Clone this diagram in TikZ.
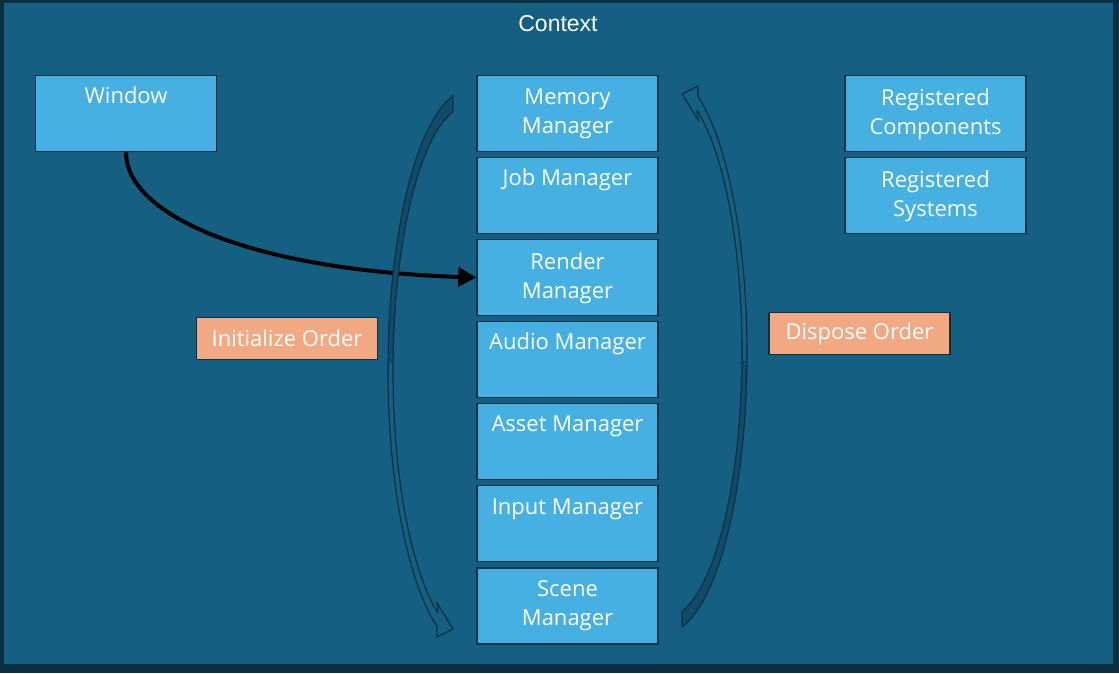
\documentclass[tikz,border=0pt]{standalone}
\usepackage{fontspec}
\setmainfont{Open Sans}
\newfontfamily\ctxfont{Liberation Sans}
\usetikzlibrary{arrows.meta}
\definecolor{ctxbg}{HTML}{156082}
\definecolor{ctxdark}{HTML}{0A3041}
\definecolor{boxblue}{HTML}{45B0E1}
\definecolor{ordorange}{HTML}{F1A983}
\definecolor{bandcol}{HTML}{104C69}
\tikzset{
 mgr/.style={draw=ctxdark, line width=1.5pt, fill=boxblue, minimum width=181pt, minimum height=76pt, inner sep=0pt},
 mgrtext/.style={anchor=north, inner sep=0pt, align=center, text=white, font=\fontsize{22}{29}\selectfont, execute at begin node={\rule{0pt}{17pt}}},
 order/.style={draw=ctxdark, line width=1.5pt, fill=ordorange, minimum width=181pt, minimum height=42pt, inner sep=0pt, text=white, font=\fontsize{22}{29}\selectfont},
 curvearr/.style={draw=ctxdark, line width=1.2pt, line join=miter},
 linkarrow/.style={line width=4pt, -{Triangle[length=18pt,width=19pt]}},
}
\begin{document}
\begin{tikzpicture}[x=1pt,y=-1pt]
\useasboundingbox (0,0) rectangle (1119,673);
\fill[ctxdark] (0,0) rectangle (1119,673);
\node[fill=ctxbg, minimum width=1109pt, minimum height=661pt, inner sep=0pt] (ctx) at (558.5,333.5) {};
\node[anchor=base, inner sep=0pt, text=white, font=\ctxfont\fontsize{23}{28}\selectfont] (title) at (558,31.5) {Context};

% managers
\node[mgr] (win) at (126,113.5) {};
\node[mgr] (mem) at (567.5,113.5) {};
\node[mgr] (job) at (567.5,195.5) {};
\node[mgr] (ren) at (567.5,277.5) {};
\node[mgr] (aud) at (567.5,359.5) {};
\node[mgr] (ast) at (567.5,441.5) {};
\node[mgr] (inp) at (567.5,523.5) {};
\node[mgr] (scn) at (567.5,606) {};
\node[mgr] (rc) at (935.5,113.5) {};
\node[mgr] (rs) at (935.5,195.5) {};

\node[mgrtext] (winT) at ([yshift=-12pt]win.north) {Window};
\node[mgrtext] (memT) at ([yshift=-13.5pt]mem.north) {Memory\\Manager};
\node[mgrtext] (jobT) at ([yshift=-11.5pt]job.north) {Job Manager};
\node[mgrtext] (renT) at ([yshift=-13.5pt]ren.north) {Render\\Manager};
\node[mgrtext] (audT) at ([yshift=-11.5pt]aud.north) {Audio Manager};
\node[mgrtext] (astT) at ([yshift=-11.5pt]ast.north) {Asset Manager};
\node[mgrtext] (inpT) at ([yshift=-12.3pt]inp.north) {Input Manager};
\node[mgrtext] (scnT) at ([yshift=-13.5pt]scn.north) {Scene\\Manager};
\node[mgrtext] (rcT) at ([yshift=-13.5pt]rc.north) {Registered\\Components};
\node[mgrtext] (rsT) at ([yshift=-13.5pt]rs.north) {Registered\\Systems};

\node[order] (init) at (287,338.5) {Initialize Order};
\node[order] (disp) at (859.5,333.5) {\raisebox{-2pt}{Dispose Order}};

% window -> render
\draw[linkarrow] (win.south) .. controls (126,215) and (250,270) .. (ren.west);

% initialize order arrow (left)
\begin{scope}
 \fill[ctxbg] plot[domain=102:246.3,samples=60,variable=\t] ({470+82*cos(\t)},{370-280*sin(\t)})
  -- (437,637) -- (453,629) -- (437,603) -- (438,613)
  -- plot[domain=245.44:102.76,samples=60,variable=\t] ({470+77*cos(\t)},{371-266*sin(\t)}) -- cycle;
 \begin{scope}
  \clip (380,80) rectangle (470,362);
  \fill[bandcol] plot[domain=102:246.3,samples=60,variable=\t] ({470+82*cos(\t)},{370-280*sin(\t)})
   -- (437,637) -- (453,629) -- (437,603) -- (438,613)
   -- plot[domain=245.44:102.76,samples=60,variable=\t] ({470+77*cos(\t)},{371-266*sin(\t)}) -- cycle;
 \end{scope}
 \draw[curvearr] plot[domain=102:246.3,samples=60,variable=\t] ({470+82*cos(\t)},{370-280*sin(\t)})
  -- (437,637) -- (453,629) -- (437,603) -- (438,613)
  -- plot[domain=245.44:102.76,samples=60,variable=\t] ({470+77*cos(\t)},{371-266*sin(\t)}) -- cycle;
\end{scope}

% dispose order arrow (right), point reflection of the left one
\begin{scope}[rotate around={180:(567.5,361.5)}]
 \fill[ctxbg] plot[domain=102:246.3,samples=60,variable=\t] ({470+82*cos(\t)},{370-280*sin(\t)})
  -- (437,637) -- (453,629) -- (437,603) -- (438,613)
  -- plot[domain=245.44:102.76,samples=60,variable=\t] ({470+77*cos(\t)},{371-266*sin(\t)}) -- cycle;
 \begin{scope}
  \clip (380,80) rectangle (470,362);
  \fill[bandcol] plot[domain=102:246.3,samples=60,variable=\t] ({470+82*cos(\t)},{370-280*sin(\t)})
   -- (437,637) -- (453,629) -- (437,603) -- (438,613)
   -- plot[domain=245.44:102.76,samples=60,variable=\t] ({470+77*cos(\t)},{371-266*sin(\t)}) -- cycle;
 \end{scope}
 \draw[curvearr] plot[domain=102:246.3,samples=60,variable=\t] ({470+82*cos(\t)},{370-280*sin(\t)})
  -- (437,637) -- (453,629) -- (437,603) -- (438,613)
  -- plot[domain=245.44:102.76,samples=60,variable=\t] ({470+77*cos(\t)},{371-266*sin(\t)}) -- cycle;
\end{scope}
\end{tikzpicture}
\end{document}
